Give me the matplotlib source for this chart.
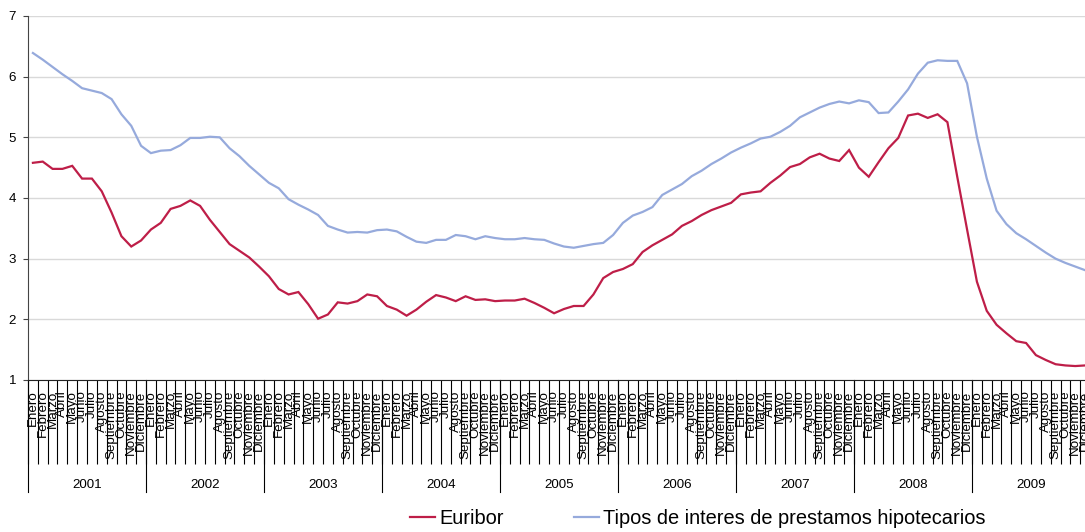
#!/usr/bin/env python3
"""Euribor vs. tipos de interes de prestamos hipotecarios, 2001-2009 (monthly).

Excel-style chart with a two-level category axis (month names + year groups).
Saves out.png.
"""

import matplotlib
matplotlib.use("Agg")
import matplotlib.pyplot as plt
import matplotlib.transforms as mtransforms
import numpy as np

plt.rcParams["font.family"] = ["Liberation Sans", "DejaVu Sans"]

# ---- data -----------------------------------------------------------------
years = ["2001", "2002", "2003", "2004", "2005", "2006", "2007", "2008", "2009"]
month_names = ["Enero", "Febrero", "Marzo", "Abril", "Mayo", "Junio", "Julio",
               "Agosto", "Septiembre", "Octubre", "Noviembre", "Diciembre"]

euribor = [
    4.58, 4.60, 4.48, 4.48, 4.53, 4.32, 4.32, 4.11, 3.76, 3.37, 3.20, 3.30,  # 2001
    3.48, 3.59, 3.82, 3.87, 3.96, 3.87, 3.64, 3.44, 3.24, 3.13, 3.02, 2.87,  # 2002
    2.71, 2.50, 2.41, 2.45, 2.25, 2.01, 2.08, 2.28, 2.26, 2.30, 2.41, 2.38,  # 2003
    2.22, 2.16, 2.06, 2.16, 2.29, 2.40, 2.36, 2.30, 2.38, 2.32, 2.33, 2.30,  # 2004
    2.31, 2.31, 2.34, 2.27, 2.19, 2.10, 2.17, 2.22, 2.22, 2.41, 2.68, 2.78,  # 2005
    2.83, 2.91, 3.11, 3.22, 3.31, 3.40, 3.54, 3.62, 3.72, 3.80, 3.86, 3.92,  # 2006
    4.06, 4.09, 4.11, 4.25, 4.37, 4.51, 4.56, 4.67, 4.73, 4.65, 4.61, 4.79,  # 2007
    4.50, 4.35, 4.59, 4.82, 4.99, 5.36, 5.39, 5.32, 5.38, 5.25, 4.35, 3.48,  # 2008
    2.62, 2.14, 1.91, 1.77, 1.64, 1.61, 1.41, 1.33, 1.26, 1.24, 1.23, 1.24,  # 2009
]

hipotecarios = [
    6.39, 6.28, 6.16, 6.04, 5.93, 5.81, 5.77, 5.73, 5.63, 5.38, 5.19, 4.86,  # 2001
    4.74, 4.78, 4.79, 4.87, 4.99, 4.99, 5.01, 5.00, 4.82, 4.69, 4.53, 4.39,  # 2002
    4.25, 4.16, 3.98, 3.89, 3.81, 3.72, 3.54, 3.48, 3.43, 3.44, 3.43, 3.47,  # 2003
    3.48, 3.45, 3.36, 3.28, 3.26, 3.31, 3.31, 3.39, 3.37, 3.32, 3.37, 3.34,  # 2004
    3.32, 3.32, 3.34, 3.32, 3.31, 3.25, 3.20, 3.18, 3.21, 3.24, 3.26, 3.39,  # 2005
    3.59, 3.71, 3.77, 3.85, 4.05, 4.14, 4.23, 4.36, 4.45, 4.56, 4.65, 4.75,  # 2006
    4.83, 4.90, 4.98, 5.01, 5.09, 5.19, 5.33, 5.41, 5.49, 5.55, 5.59, 5.56,  # 2007
    5.61, 5.58, 5.40, 5.41, 5.59, 5.79, 6.05, 6.23, 6.27, 6.26, 6.26, 5.89,  # 2008
    5.01, 4.32, 3.79, 3.57, 3.42, 3.32, 3.21, 3.10, 3.00, 2.93, 2.87, 2.81,  # 2009
]

series_labels = ["Euribor", "Tipos de interes de prestamos hipotecarios"]
series_colors = ["#BE1E48", "#96AADC"]

W, H = 1085, 532  # output size in px


def main():
    fig = plt.figure(figsize=(W / 100, H / 100), dpi=100)
    # plot area: left spine at x=28px, y=1 at 380px, y=7 at 16px;
    # the right end (Dec 2009 boundary) sits just past the image edge
    ax = fig.add_axes([28 / W, (H - 380) / H, 1062 / W, 364 / H])

    labels = [m for _ in years for m in month_names]
    x = np.arange(len(labels))

    lines = []
    for vals, lab, col in zip([euribor, hipotecarios], series_labels, series_colors):
        ln, = ax.plot(x, vals, color=col, lw=1.6, label=lab, solid_joinstyle="miter")
        lines.append(ln)

    ax.set_xlim(-0.5, len(labels) - 0.5)
    ax.set_ylim(1, 7)
    ax.set_yticks(range(1, 8))
    ax.yaxis.grid(True, color="#d9d9d9", lw=1.0)
    ax.set_axisbelow(True)

    for s in ("top", "right"):
        ax.spines[s].set_visible(False)
    ax.spines["left"].set_color("#444444")
    ax.spines["bottom"].set_color("#222222")

    ax.tick_params(axis="y", length=3.6, width=0.8, color="#444444",
                   pad=5, labelsize=9.6, labelcolor="black")

    # month labels at category centres, separators as long minor ticks
    ax.set_xticks(x)
    ax.set_xticklabels(labels, rotation=90, fontsize=9.6)
    ax.tick_params(axis="x", which="major", length=0, pad=7.5)
    ax.set_xticks(np.arange(len(labels) + 1) - 0.5, minor=True)
    ax.tick_params(axis="x", which="minor", length=60.5, width=0.8,
                   color="black", direction="out")

    # year group separators and labels
    trans = mtransforms.blended_transform_factory(ax.transData, ax.transAxes)
    year_bottom = -(492 - 380) / 364
    for k in range(len(years) + 1):
        xb = 12 * k - 0.5
        ax.plot([xb, xb], [0, year_bottom], transform=trans, clip_on=False,
                color="black", lw=0.8)
    for k, yr in enumerate(years):
        ax.text(12 * k + 5.5, -(485 - 380) / 364, yr, transform=trans,
                ha="center", va="center", fontsize=9.6)

    fig.legend(lines, series_labels, loc="center", bbox_to_anchor=(0.643, 0.026),
               ncol=2, frameon=False, fontsize=14.4, handlelength=1.25,
               handletextpad=0.2, columnspacing=3.5)

    fig.savefig("out.png", dpi=100)


if __name__ == "__main__":
    main()
